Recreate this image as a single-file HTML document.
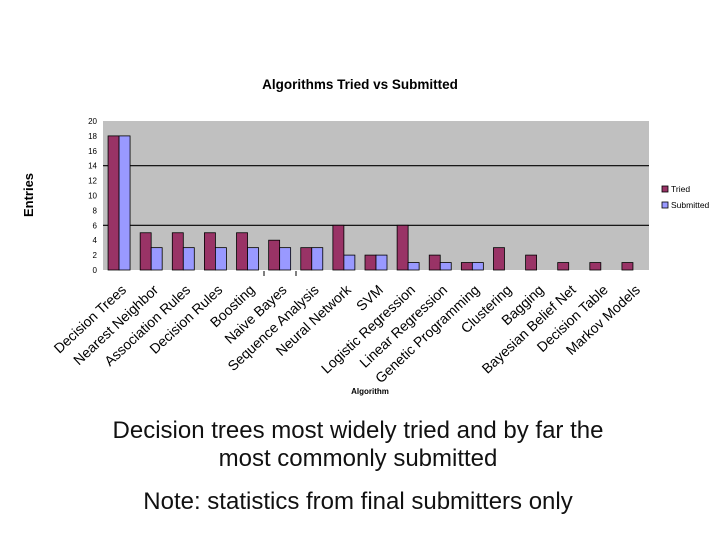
<!DOCTYPE html>
<html><head><meta charset="utf-8"><style>
body{margin:0;background:#fff;width:720px;height:540px;overflow:hidden;font-family:"Liberation Sans",Arial,sans-serif}
.t{position:absolute;left:0;width:716px;text-align:center;font-size:24px;line-height:24px;color:#111}
</style></head><body>
<svg width="720" height="540" style="position:absolute;left:0;top:0" font-family="Liberation Sans, Arial, sans-serif">
<text x="360" y="89" text-anchor="middle" font-size="13.5" font-weight="bold">Algorithms Tried vs Submitted</text>
<text x="0" y="0" transform="translate(33,195) rotate(-90)" text-anchor="middle" font-size="13" font-weight="bold">Entries</text>
<text x="370" y="394" text-anchor="middle" font-size="8" font-weight="bold">Algorithm</text>
<rect x="103" y="121" width="546" height="149" fill="#c0c0c0"/>
<g id="grid"></g><g id="bars"></g><g id="yt"></g><g id="xt"></g>
<line x1="264" y1="271" x2="264" y2="276" stroke="#000"/>
<line x1="296" y1="271" x2="296" y2="276" stroke="#000"/>
<g>
<rect x="662" y="186" width="6" height="6" fill="#993366" stroke="#000" stroke-width="0.8"/>
<text x="671" y="192" font-size="8.5">Tried</text>
<rect x="662" y="202" width="6" height="6" fill="#9999ff" stroke="#000" stroke-width="0.8"/>
<text x="671" y="208" font-size="8.5">Submitted</text>
</g>
</svg>
<div class="t" style="top:419px">Decision trees most widely tried and by far the</div>
<div class="t" style="top:447px">most commonly submitted</div>
<div class="t" style="top:490px">Note: statistics from final submitters only</div>
<script>
const categories=["Decision Trees","Nearest Neighbor","Association Rules","Decision Rules","Boosting","Naive Bayes","Sequence Analysis","Neural Network","SVM","Logistic Regression","Linear Regression","Genetic Programming","Clustering","Bagging","Bayesian Belief Net","Decision Table","Markov Models"];
const tried=[18,5,5,5,5,4,3,6,2,6,2,1,3,2,1,1,1];
const submitted=[18,3,3,3,3,3,3,2,2,1,1,1,0,0,0,0,0];
const yTicks=[0,2,4,6,8,10,12,14,16,18,20];
const gridValues=[6,14];
const NS="http://www.w3.org/2000/svg";
const x0=103,x1=649,yb=270,yt=121,ymax=20;
const slot=(x1-x0)/categories.length;
function y(v){return yb-(v/ymax)*(yb-yt);}
function xc(i){return x0+slot*(i+0.5);}
function mk(tag,attrs,parent){const e=document.createElementNS(NS,tag);for(const k in attrs)e.setAttribute(k,attrs[k]);document.getElementById(parent).appendChild(e);return e;}
gridValues.forEach(v=>{const l=mk('line',{x1:x0,x2:x1,y1:y(v),y2:y(v),stroke:'#000','stroke-width':1.2},'grid');

});
yTicks.forEach(v=>{const t=mk('text',{x:97,y:y(v)+3,'text-anchor':'end','font-size':8},'yt');t.textContent=v;

});
const bw=11;
categories.forEach((c,i)=>{
 const cx=xc(i);
 if(tried[i]>0){const r=mk('rect',{x:cx-bw,y:y(tried[i]),width:bw,height:yb-y(tried[i]),fill:'#993366',stroke:'#000','stroke-width':0.8},'bars');
 
 }
 if(submitted[i]>0){const r=mk('rect',{x:cx,y:y(submitted[i]),width:bw,height:yb-y(submitted[i]),fill:'#9999ff',stroke:'#000','stroke-width':0.8},'bars');
 
 }
 const t=mk('text',{x:0,y:0,'text-anchor':'end','font-size':14,transform:`translate(${cx+8},${291}) rotate(-43)`},'xt');
 t.textContent=c;
 
 
});
</script>
</body></html>
